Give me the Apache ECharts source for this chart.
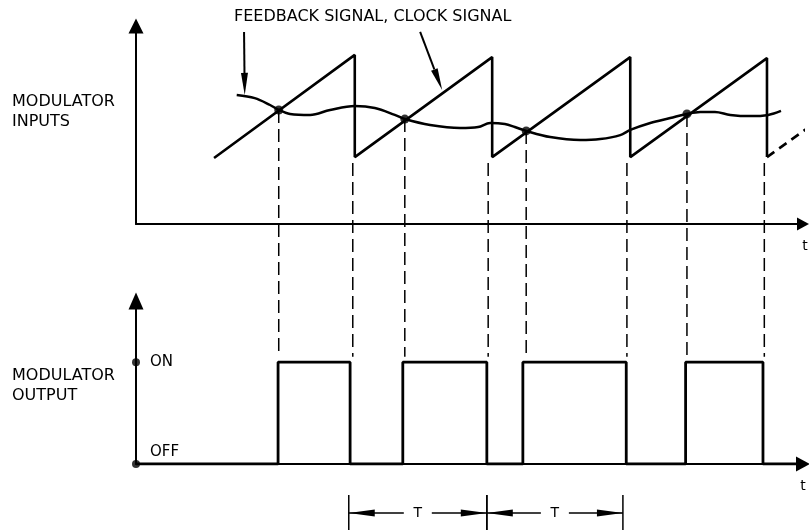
<!DOCTYPE html>
<html>
<head>
<meta charset="utf-8">
<title>Modulator inputs / output</title>
<script src="https://cdn.jsdelivr.net/npm/echarts@6/dist/echarts.min.js"></script>
<style>
  html, body { margin: 0; padding: 0; background: #fff; }
  #chart { width: 809px; height: 532px; }
</style>
</head>
<body>
<div id="chart"></div>
<script>
// clock (sawtooth) corners
const clockX = [11.7, 32.8, 32.8, 53.4, 53.4, 74.1, 74.1, 94.6, 94.6];
const clockY = [33.3, 85.4, 33.8, 84.3, 33.8, 84.3, 33.8, 83.8, 33.8];
// start of the next ramp, drawn dashed
const clockNextX = [94.6, 100.9];
const clockNextY = [33.8, 49.0];

// feedback signal
const feedbackX = [15.1, 17.8, 20.1, 21.4, 23.1, 26.1, 29.1, 32.8, 35.8, 38.8, 40.3, 44.1, 48.6, 51.3, 53.1, 55.3,
  56.8, 58.5, 62.1, 66.6, 69.6, 72.6, 74.1, 77.1, 80.1, 82.6, 84.6, 86.8, 89.1, 92.1, 94.8, 96.7];
const feedbackY = [65.2, 63.6, 60.1, 57.6, 55.6, 55.1, 57.6, 59.6, 58.6, 55.1, 53.0, 50.0, 48.5, 49.0, 51.0, 50.5,
  49.0, 47.0, 43.9, 42.4, 42.9, 44.9, 47.5, 51.0, 53.5, 55.6, 56.6, 56.6, 55.1, 54.5, 55.1, 57.1];

// where feedback meets the clock ramp
const crossX = [21.4, 40.3, 58.5, 82.6];
const crossY = [57.6, 53.0, 47.0, 55.6];

// dashed projection lines (top value -> down to the ON level below)
const dropX = [21.4, 32.5, 40.3, 52.8, 58.5, 73.6, 82.6, 94.2];
const dropFromY = [57.6, 30.8, 53.0, 30.8, 47.0, 30.8, 55.6, 30.8];
const dropToY = -67;

// modulator output pulses
const pulseOn = [21.3, 40.0, 58.0, 82.4];
const pulseOff = [32.1, 52.6, 73.5, 94.0];
const outputLevels = ['OFF', 'ON'];

// period marks under the output
const periodMarks = [31.9, 52.6, 73.0];
const periodLabel = 'T';

const ink = '#000';
const font = 'DejaVu Sans';

const zip = (xs, ys) => xs.map((x, i) => [x, ys[i]]);

let pulseData = [[0, 0]];
pulseOn.forEach((on, i) => {
  pulseData.push([on, 0], [on, 1], [pulseOff[i], 1], [pulseOff[i], 0]);
});
pulseData.push([100, 0]);

let spans = [];
for (let i = 0; i < periodMarks.length - 1; i++) spans.push([periodMarks[i], periodMarks[i + 1]]);

//pointer arrows for the two signal names
function pointerItem(params, api) {
  const p0 = api.coord([api.value(0), api.value(1)]);
  const p1 = api.coord([api.value(2), api.value(3)]);
  const ang = Math.atan2(p1[1] - p0[1], p1[0] - p0[0]);
  const L = 22, W = 3.5;
  const bx = p1[0] - L * Math.cos(ang), by = p1[1] - L * Math.sin(ang);
  const nx = -Math.sin(ang) * W, ny = Math.cos(ang) * W;
  return {
    type: 'group',
    children: [
      { type: 'line', shape: { x1: p0[0], y1: p0[1], x2: bx, y2: by }, style: { stroke: ink, lineWidth: 2 } },
      { type: 'polygon', shape: { points: [p1, [bx + nx, by + ny], [bx - nx, by - ny]] }, style: { fill: ink } },
    ],
  };
}

// |<-- T -->| dimension under the lower axis
function spanItem(params, api) {
  const a = api.coord([api.value(0), 0]);
  const b = api.coord([api.value(1), 0]);
  const y = a[1] + 49;
  const mid = (a[0] + b[0]) / 2;
  const L = 26, W = 3.5, gap = 14;
  const line = (x1, y1, x2, y2) => ({ type: 'line', shape: { x1, y1, x2, y2 }, style: { stroke: ink, lineWidth: 1.5 } });
  return {
    type: 'group',
    children: [
      line(a[0], y - 18, a[0], y + 17),
      line(b[0], y - 18, b[0], y + 17),
      line(a[0], y, mid - gap, y),
      line(mid + gap, y, b[0], y),
      { type: 'polygon', shape: { points: [[a[0], y], [a[0] + L, y - W], [a[0] + L, y + W]] }, style: { fill: ink } },
      { type: 'polygon', shape: { points: [[b[0], y], [b[0] - L, y - W], [b[0] - L, y + W]] }, style: { fill: ink } },
      { type: 'text', style: { text: periodLabel, x: mid, y: y, align: 'center', verticalAlign: 'middle', font: '14px ' + font, fill: ink } },
    ],
  };
}

const axisLine = (size) => ({
  show: true,
  onZero: false,
  symbol: ['none', 'triangle'],
  symbolSize: size,
  lineStyle: { color: ink, width: 2 },
});

const chart = echarts.init(document.getElementById('chart'));
chart.setOption({
  backgroundColor: '#fff',
  animation: false,
  grid: [
    { left: 136, right: 6, top: 26, height: 198 },
    { left: 136, right: 6, top: 301, height: 163 },
  ],
  xAxis: [
    {
      gridIndex: 0, type: 'value', min: 0, max: 100,
      axisLine: axisLine([13, 12]), axisTick: { show: false }, axisLabel: { show: false }, splitLine: { show: false },
      name: 't', nameLocation: 'end', nameGap: 2,
      nameTextStyle: { color: ink, fontFamily: font, fontSize: 14, align: 'center', verticalAlign: 'top', padding: [15, 0, 0, 0] },
    },
    {
      gridIndex: 1, type: 'value', min: 0, max: 100,
      axisLine: axisLine([15, 14]), axisTick: { show: false }, axisLabel: { show: false }, splitLine: { show: false },
      name: 't', nameLocation: 'end', nameGap: 0,
      nameTextStyle: { color: ink, fontFamily: font, fontSize: 14, align: 'center', verticalAlign: 'top', padding: [15, 0, 0, 0] },
    },
  ],
  yAxis: [
    {
      gridIndex: 0, type: 'value', min: 0, max: 100,
      axisLine: axisLine([15, 15]), axisTick: { show: false }, axisLabel: { show: false }, splitLine: { show: false },
    },
    {
      gridIndex: 1, type: 'value', min: 0, max: 1.6, interval: 1,
      axisLine: axisLine([15, 17]), axisTick: { show: false }, splitLine: { show: false },
      axisLabel: {
        inside: true, margin: 14, color: ink, fontFamily: font, fontSize: 15,
        formatter: (v) => (v === 0 ? '{low|' + outputLevels[0] + '}' : v === 1 ? outputLevels[1] : ''),
        rich: { low: { fontFamily: font, fontSize: 15, color: ink, padding: [0, 0, 24, 0] } },
      },
    },
  ],
  graphic: [
    { type: 'text', x: 234, y: 17, style: { text: 'FEEDBACK SIGNAL, CLOCK SIGNAL', font: '16px ' + font, fill: ink, verticalAlign: 'middle' } },
    { type: 'text', x: 12, y: 112, style: { text: 'MODULATOR\nINPUTS', font: '16px ' + font, lineHeight: 20, fill: ink, verticalAlign: 'middle' } },
    { type: 'text', x: 12, y: 386, style: { text: 'MODULATOR\nOUTPUT', font: '16px ' + font, lineHeight: 20, fill: ink, verticalAlign: 'middle' } },
  ],
  series: [
    {
      name: 'clock', type: 'line', xAxisIndex: 0, yAxisIndex: 0,
      data: zip(clockX, clockY), symbol: 'none', lineStyle: { color: ink, width: 2.6 },
    },
    {
      name: 'clock next', type: 'line', xAxisIndex: 0, yAxisIndex: 0, clip: false,
      data: zip(clockNextX, clockNextY), symbol: 'none', lineStyle: { color: ink, width: 2.6, type: [9, 6] },
    },
    {
      name: 'feedback', type: 'line', xAxisIndex: 0, yAxisIndex: 0, smooth: 0.35,
      data: zip(feedbackX, feedbackY), symbol: 'none', lineStyle: { color: ink, width: 2.5 },
    },
    ...dropX.map((x, i) => ({
      type: 'line', xAxisIndex: 0, yAxisIndex: 0, clip: false, z: 1,
      data: [[x, dropFromY[i]], [x, dropToY]], symbol: 'none', lineStyle: { color: ink, width: 1.5, type: [13, 6] },
    })),
    {
      name: 'cross', type: 'scatter', xAxisIndex: 0, yAxisIndex: 0,
      data: zip(crossX, crossY), symbolSize: 9, itemStyle: { color: ink },
    },
    {
      name: 'pointers', type: 'custom', xAxisIndex: 0, yAxisIndex: 0, clip: false,
      data: [[16.2, 97, 16.3, 65.2], [42.6, 97, 45.9, 67.7]], renderItem: pointerItem,
    },
    {
      name: 'output', type: 'line', xAxisIndex: 1, yAxisIndex: 1,
      data: pulseData, symbol: 'none', lineStyle: { color: ink, width: 2.8 },
    },
    {
      name: 'levels', type: 'scatter', xAxisIndex: 1, yAxisIndex: 1, clip: false,
      data: [[0, 0], [0, 1]], symbolSize: 8, itemStyle: { color: ink },
    },
    {
      name: 'period', type: 'custom', xAxisIndex: 1, yAxisIndex: 1, clip: false,
      encode: { x: [0, 1] }, data: spans, renderItem: spanItem,
    },
  ],
});
</script>
</body>
</html>
